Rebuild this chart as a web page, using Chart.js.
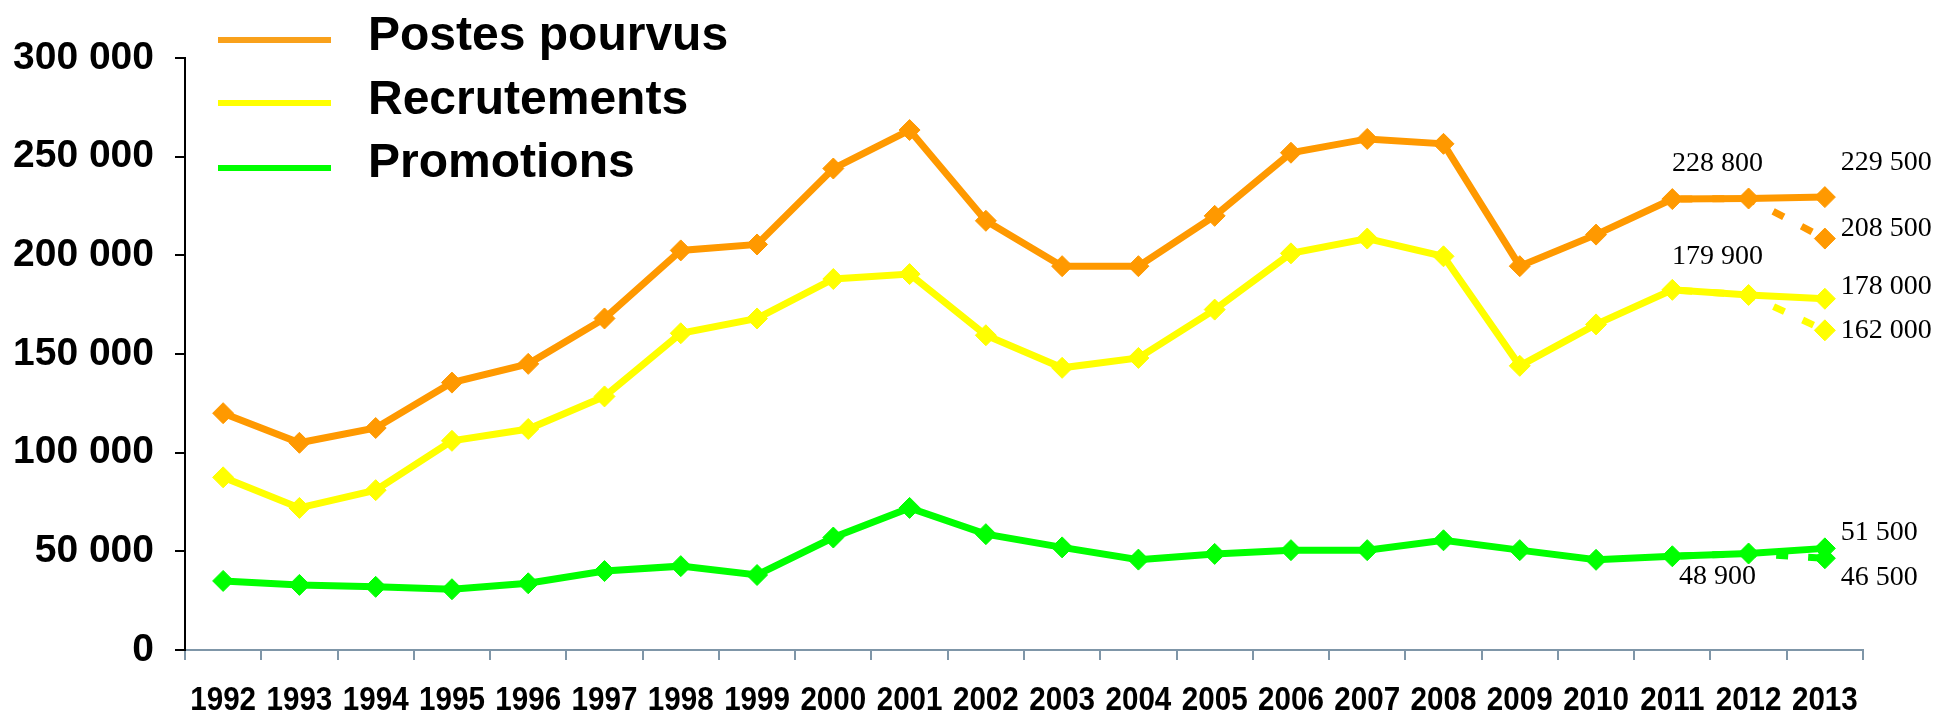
<!DOCTYPE html>
<html>
<head>
<meta charset="utf-8">
<script src="https://cdn.jsdelivr.net/npm/chart.js@4.4.1/dist/chart.umd.min.js"></script>
<style>
  html, body { margin: 0; padding: 0; background: #ffffff; }
  #wrap { width: 1937px; height: 711px; position: relative; }
</style>
</head>
<body>
<div id="wrap"><canvas id="c"></canvas></div>
<script>
// ---- data ----
const categories = ['1992','1993','1994','1995','1996','1997','1998','1999','2000','2001','2002',
                    '2003','2004','2005','2006','2007','2008','2009','2010','2011','2012','2013'];
const seriesNames = ['Postes pourvus', 'Recrutements', 'Promotions'];
const postesPourvus = [120000, 105000, 112500, 135500, 145000, 168000, 202500, 205500, 244000, 263500, 217500,
                       194500, 194500, 220000, 252000, 259000, 256500, 194500, 210500, 228500, 228800, 229500];
const recrutements  = [87500, 72000, 81000, 106000, 112000, 128500, 160500, 168000, 188000, 190500, 159500,
                       143000, 148000, 172500, 201000, 208500, 199500, 144000, 165000, 182500, 179900, 178000];
const promotions    = [35000, 33000, 32000, 30800, 33800, 40000, 42500, 38000, 57000, 72000, 58700,
                       52000, 45800, 48700, 50600, 50600, 55600, 50600, 45700, 47500, 48900, 51500];
// alternative (dashed) 2013 values: postes, recrutements, promotions
const variante2013 = [208500, 162000, 46500];
const yTicks = [0, 50000, 100000, 150000, 200000, 250000, 300000];

// ---- styles ----
const colors = ['#FF9900', '#FFFF00', '#00FF00'];
const legendColors = ['#F9A11B', '#FFFF00', '#00FF00'];
const fmt = v => String(Math.round(v)).replace(/\B(?=(\d{3})+(?!\d))/g, ' ');

const solid = [postesPourvus, recrutements, promotions];
const datasets = [];
solid.forEach((arr, i) => {
  datasets.push({
    label: seriesNames[i], data: arr,
    borderColor: colors[i], backgroundColor: colors[i],
    borderWidth: 7, pointStyle: 'rectRot', pointRadius: 10.5, pointBorderWidth: 1,
    pointBackgroundColor: colors[i], pointBorderColor: colors[i], tension: 0
  });
});
solid.forEach((arr, i) => {
  const n = arr.length;
  const d = arr.map((v, k) => (k >= n - 3 && k < n - 1) ? v : null);
  d[n - 1] = variante2013[i];
  datasets.push({
    label: seriesNames[i] + ' (variante)', data: d,
    borderColor: colors[i], backgroundColor: colors[i],
    borderWidth: 7, borderDash: [12, 20], borderDashOffset: -8,
    pointStyle: 'rectRot', pointBorderWidth: 1,
    pointRadius: ctx => ctx.dataIndex === n - 1 ? 10.5 : 0,
    pointBackgroundColor: colors[i], pointBorderColor: colors[i], tension: 0, spanGaps: false
  });
});

// label placements (dx, dy relative to point)
const endLabelStyle = [
  { prevDx: -31, prevDy: -35, lastDy: -34, altDy: -10 },
  { prevDx: -31, prevDy: -38, lastDy: -12, altDy: 0 },
  { prevDx: -31, prevDy: 23, lastDy: -16, altDy: 19 }
];

const valueLabels = {
  id: 'valueLabels',
  afterDatasetsDraw(chart) {
    const ctx = chart.ctx;
    ctx.save();
    ctx.font = '28px "Liberation Serif", "Times New Roman", serif';
    ctx.fillStyle = '#000';
    ctx.textBaseline = 'middle';
    for (let i = 0; i < 3; i++) {
      const meta = chart.getDatasetMeta(i);
      const metaAlt = chart.getDatasetMeta(i + 3);
      const n = solid[i].length;
      const pPrev = meta.data[n - 2];
      const pLast = meta.data[n - 1];
      const pAlt = metaAlt.data[n - 1];
      const st = endLabelStyle[i];
      ctx.textAlign = 'center';
      ctx.fillText(fmt(solid[i][n - 2]), pPrev.x + st.prevDx, pPrev.y + st.prevDy);
      ctx.textAlign = 'left';
      ctx.fillText(fmt(solid[i][n - 1]), pLast.x + 16, pLast.y + st.lastDy);
      ctx.fillText(fmt(variante2013[i]), pAlt.x + 16, pAlt.y + st.altDy);
    }
    ctx.restore();
  }
};

// condensed year labels under the x axis
const yearLabels = {
  id: 'yearLabels',
  afterDraw(chart) {
    const ctx = chart.ctx;
    const xs = chart.scales.x;
    ctx.save();
    ctx.fillStyle = '#000';
    ctx.font = 'bold 34px "Liberation Sans", Arial, sans-serif';
    ctx.textAlign = 'center';
    ctx.textBaseline = 'alphabetic';
    categories.forEach((lab, i) => {
      const x = xs.getPixelForValue(i);
      ctx.save();
      ctx.translate(x, 710);
      ctx.scale(0.87, 1);
      ctx.fillText(lab, 0, 0);
      ctx.restore();
    });
    ctx.restore();
  }
};

const customLegend = {
  id: 'customLegend',
  afterDraw(chart) {
    const ctx = chart.ctx;
    ctx.save();
    const lineY = [40, 103, 168];
    const baseY = [50, 114, 177];
    for (let i = 0; i < 3; i++) {
      ctx.strokeStyle = legendColors[i];
      ctx.lineWidth = 6;
      ctx.beginPath();
      ctx.moveTo(218, lineY[i]);
      ctx.lineTo(331, lineY[i]);
      ctx.stroke();
      ctx.fillStyle = '#000';
      ctx.font = 'bold 48px "Liberation Sans", Arial, sans-serif';
      ctx.textAlign = 'left';
      ctx.textBaseline = 'alphabetic';
      ctx.fillText(chart.data.datasets[i].label, 368, baseY[i]);
    }
    ctx.restore();
  }
};

new Chart(document.getElementById('c'), {
  type: 'line',
  data: { labels: categories, datasets },
  plugins: [valueLabels, yearLabels, customLegend],
  options: {
    responsive: true, maintainAspectRatio: false, animation: false,
    events: [],
    layout: { padding: { left: 0, right: 74, top: 58, bottom: 0 } },
    plugins: { legend: { display: false }, tooltip: { enabled: false } },
    scales: {
      x: {
        offset: true,
        afterFit: s => { s.height = 61; },
        grid: { offset: true, drawOnChartArea: false, drawTicks: true, tickLength: 10, color: '#7F96A8', lineWidth: 2 },
        border: { display: true, color: '#7F96A8', width: 2 },
        ticks: { display: false, autoSkip: false, maxRotation: 0 }
      },
      y: {
        min: 0, max: 300000,
        afterFit: s => { s.width = 185; },
        afterBuildTicks: s => { s.ticks = yTicks.map(v => ({ value: v })); },
        grid: { drawOnChartArea: false, drawTicks: true, tickLength: 10, color: '#000', lineWidth: 2 },
        border: { display: true, color: '#000', width: 2 },
        ticks: {
          color: '#000', padding: 21,
          callback: v => fmt(v),
          font: { family: '"Liberation Sans", Arial, sans-serif', weight: 'bold', size: 39 }
        }
      }
    }
  }
});
</script>
</body>
</html>
